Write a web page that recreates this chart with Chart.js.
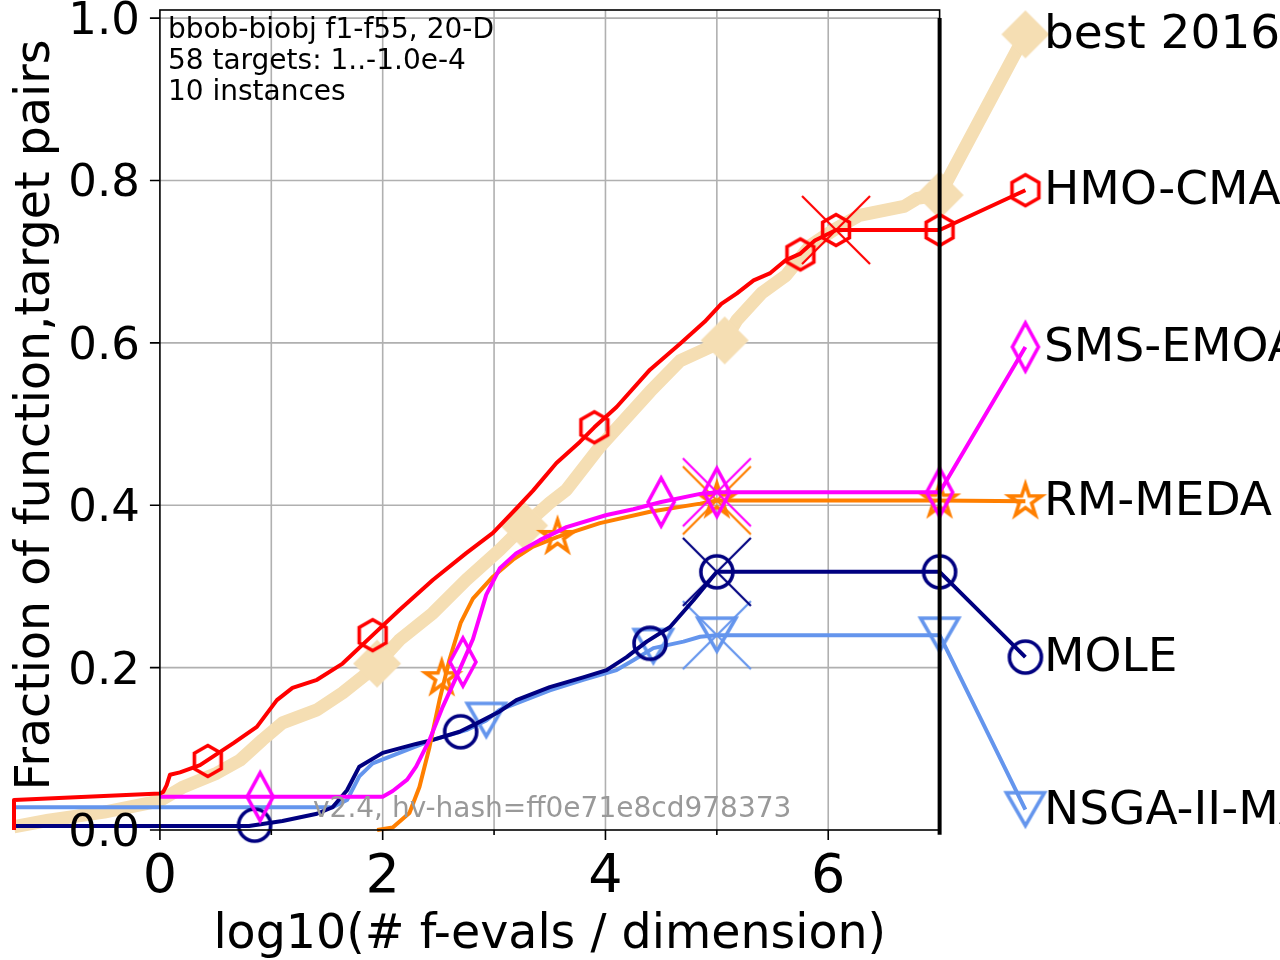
<!DOCTYPE html>
<html>
<head>
<meta charset="utf-8">
<script src="https://cdn.jsdelivr.net/npm/chart.js"></script>
<style>
  html, body { margin: 0; padding: 0; background: #ffffff; }
  canvas { display: block; }
</style>
</head>
<body>
<canvas id="ecdf" width="1280" height="960"></canvas>
<script>
// DATA (log10 of f-evals / dimension, fraction of function,target pairs)
// ---------------------------------------------------
const algNames = [ 'best 2016', 'HMO-CMA-ES', 'SMS-EMOA', 'RM-MEDA', 'MOLE', 'NSGA-II-MATLAB' ];
const algColors = [ '#F5DEB3', '#FF0000', '#FF00FF', '#FF7F00', '#000080', '#6495ED' ];

const bestCurve = [ [-1.31,0.004],[-1.0,0.012],[-0.5,0.022],[0,0.036],[0.21,0.053],[0.51,0.07],[0.72,0.086],[0.92,0.111],[1.1,0.132],[1.41,0.148],[1.64,0.169],[1.86,0.193],[1.95,0.204],[2.15,0.234],[2.45,0.267],[2.75,0.308],[3.05,0.345],[3.27,0.375],[3.5,0.403],[3.65,0.419],[3.95,0.472],[4.4,0.54],[4.67,0.578],[5.07,0.603],[5.18,0.628],[5.4,0.661],[5.62,0.683],[5.84,0.72],[6.06,0.74],[6.28,0.757],[6.68,0.768],[6.8,0.778],[7.0,0.782],[7.77,0.98] ];
const bestMarks = [ [1.95,0.205],[3.27,0.375],[5.07,0.603],[7.0,0.782],[7.77,0.98] ];

const hmoCurve = [ [-1.31,0],[-1.31,0.037],[0,0.045],[0.03,0.047],[0.06,0.055],[0.09,0.068],[0.18,0.071],[0.36,0.08],[0.66,0.107],[0.87,0.127],[1.05,0.16],[1.19,0.175],[1.41,0.185],[1.64,0.205],[1.91,0.24],[2.15,0.271],[2.45,0.308],[2.75,0.341],[2.99,0.366],[3.2,0.396],[3.35,0.418],[3.56,0.452],[3.77,0.478],[3.9,0.496],[4.1,0.521],[4.4,0.567],[4.67,0.599],[4.89,0.626],[5.04,0.648],[5.18,0.661],[5.33,0.677],[5.48,0.686],[5.62,0.702],[5.75,0.71],[5.88,0.726],[6.07,0.739],[7.0,0.739],[7.77,0.788] ];
const hmoMarks = [ [0.43,0.085],[1.91,0.24],[3.9,0.496],[5.75,0.709],[6.07,0.739],[7.0,0.739],[7.77,0.788] ];
const hmoCross = [ 6.07, 0.739 ];

const smsCurve = [ [0,0.041],[2.0,0.041],[2.09,0.048],[2.22,0.062],[2.3,0.078],[2.42,0.111],[2.54,0.152],[2.66,0.188],[2.81,0.235],[2.93,0.29],[3.05,0.322],[3.2,0.341],[3.41,0.357],[3.65,0.373],[4.01,0.388],[4.25,0.395],[4.5,0.404],[4.85,0.414],[5.0,0.416],[7.0,0.416],[7.77,0.595] ];
const smsMarks = [ [0.9,0.041],[2.72,0.207],[4.5,0.404],[5.0,0.416],[7.0,0.416],[7.77,0.595] ];
const smsCross = [ 5.0, 0.416 ];

const rmCurve = [ [1.95,0],[2.09,0.003],[2.24,0.021],[2.33,0.053],[2.42,0.102],[2.51,0.16],[2.6,0.21],[2.7,0.255],[2.81,0.285],[2.99,0.312],[3.17,0.333],[3.35,0.349],[3.57,0.361],[3.95,0.378],[4.4,0.392],[4.85,0.402],[5.0,0.406],[7.0,0.406],[7.77,0.405] ];
const rmMarks = [ [2.53,0.187],[3.57,0.361],[5.0,0.406],[7.0,0.406],[7.77,0.405] ];
const rmCross = [ 5.0, 0.406 ];

const moleCurve = [ [-1.31,0.005],[0.8,0.005],[1.1,0.011],[1.41,0.02],[1.55,0.028],[1.68,0.049],[1.79,0.078],[2.0,0.095],[2.3,0.106],[2.45,0.111],[2.69,0.121],[2.84,0.131],[3.05,0.146],[3.2,0.16],[3.5,0.176],[3.8,0.188],[4.01,0.197],[4.19,0.213],[4.37,0.232],[4.58,0.25],[4.79,0.283],[5.0,0.318],[7.0,0.318],[7.77,0.213] ];
const moleMarks = [ [0.85,0.006],[2.7,0.121],[4.4,0.23],[5.0,0.318],[7.0,0.318],[7.77,0.213] ];
const moleCross = [ 5.0, 0.318 ];

const nsgaCurve = [ [-1.31,0.028],[1.55,0.028],[1.68,0.037],[1.79,0.066],[1.91,0.082],[2.15,0.095],[2.45,0.111],[2.75,0.123],[2.93,0.135],[3.05,0.148],[3.2,0.156],[3.5,0.172],[3.8,0.185],[4.1,0.197],[4.25,0.209],[4.43,0.224],[4.7,0.232],[4.85,0.238],[5.0,0.24],[7.0,0.24],[7.77,0.025] ];
const nsgaMarks = [ [2.93,0.135],[4.43,0.226],[5.0,0.24],[7.0,0.24],[7.77,0.025] ];
const nsgaCross = [ 5.0, 0.24 ];

const xTicks = [ 0, 2, 4, 6 ];
const xGrid = [ 1, 2, 3, 4, 5, 6 ];
const yTicks = [ 0, 0.2, 0.4, 0.6, 0.8, 1.0 ];
const infoLines = [ 'bbob-biobj f1-f55, 20-D', '58 targets: 1..-1.0e-4', '10 instances' ];
const versionText = 'v2.4, hv-hash=ff0e71e8cd978373';
const xTitle = 'log10(# f-evals / dimension)';
const yTitle = 'Fraction of function,target pairs';

// MARKER IMAGES
// ---------------------------------------------------
function markerCanvas( shape, color ) {
    const s = 80;
    const c = document.createElement( 'canvas' );
    c.width = s; c.height = s;
    const g = c.getContext( '2d' );
    g.translate( s / 2, s / 2 );
    g.strokeStyle = color;
    g.fillStyle = color;
    g.lineWidth = 3.6;
    g.lineJoin = 'miter';
    g.beginPath();
    if ( shape === 'hexagon' ) {
        for ( let k = 0; k < 6; k++ ) {
            const a = -Math.PI / 2 + k * Math.PI / 3;
            g.lineTo( 15.5 * Math.cos( a ), 15.5 * Math.sin( a ) );
        }
    } else if ( shape === 'thindiamond' ) {
        g.moveTo( 0, -24 ); g.lineTo( 13, 0 ); g.lineTo( 0, 24 ); g.lineTo( -13, 0 );
    } else if ( shape === 'star' ) {
        for ( let k = 0; k < 10; k++ ) {
            const a = -Math.PI / 2 + k * Math.PI / 5;
            const r = k % 2 === 0 ? 17 : 17 * 0.381966;
            g.lineTo( r * Math.cos( a ), r * Math.sin( a ) );
        }
    } else if ( shape === 'circle' ) {
        g.arc( 0, 0, 16, 0, Math.PI * 2 );
    } else if ( shape === 'tridown' ) {
        g.moveTo( -19, -17 ); g.lineTo( 19, -17 ); g.lineTo( 0, 16 );
    } else if ( shape === 'diamond' ) {
        g.moveTo( 0, -24 ); g.lineTo( 24, 0 ); g.lineTo( 0, 24 ); g.lineTo( -24, 0 );
    } else if ( shape === 'cross' ) {
        g.lineWidth = 2.2;
        g.moveTo( -34, -34 ); g.lineTo( 34, 34 );
        g.moveTo( 34, -34 ); g.lineTo( -34, 34 );
        g.stroke();
        return c;
    }
    g.closePath();
    if ( shape === 'diamond' ) g.fill(); else g.stroke();
    return c;
}

const toPts = arr => arr.map( p => ({ x: p[0], y: p[1] }) );

// DATASETS (first one in the list is drawn on top)
// ---------------------------------------------------
const series = [
    { curve: hmoCurve,  marks: hmoMarks,  cross: hmoCross,  shape: 'hexagon',     color: algColors[1], width: 4 },
    { curve: smsCurve,  marks: smsMarks,  cross: smsCross,  shape: 'thindiamond', color: algColors[2], width: 4 },
    { curve: rmCurve,   marks: rmMarks,   cross: rmCross,   shape: 'star',        color: algColors[3], width: 4 },
    { curve: moleCurve, marks: moleMarks, cross: moleCross, shape: 'circle',      color: algColors[4], width: 4 },
    { curve: nsgaCurve, marks: nsgaMarks, cross: nsgaCross, shape: 'tridown',     color: algColors[5], width: 4 },
    { curve: bestCurve, marks: bestMarks, cross: null,      shape: 'diamond',     color: algColors[0], width: 13 }
];

const datasets = [];
series.forEach( function ( s ) {
    if ( s.cross ) {
        datasets.push({
            data: toPts( [ s.cross ] ), showLine: false, clip: false,
            pointStyle: markerCanvas( 'cross', s.color ), pointRadius: 5, pointHoverRadius: 5
        });
    }
    datasets.push({
        data: toPts( s.marks ), showLine: false, clip: false,
        pointStyle: markerCanvas( s.shape, s.color ), pointRadius: 5, pointHoverRadius: 5
    });
    datasets.push({
        data: toPts( s.curve ), showLine: true, clip: false,
        borderColor: s.color, borderWidth: s.width, pointRadius: 0, pointHoverRadius: 0,
        tension: 0, borderJoinStyle: 'round', borderCapStyle: 'butt', fill: false
    });
});
datasets.forEach( ( d, i ) => { d.order = i; } );

// FRAME, GRID AND TEXT PLUGIN
// ---------------------------------------------------
const FONT = '"DejaVu Sans", sans-serif';
const framePlugin = {
    id: 'cocoFrame',
    beforeDatasetsDraw( chart ) {
        const ctx = chart.ctx, xs = chart.scales.x, ys = chart.scales.y;
        const x0 = xs.getPixelForValue( 0 ), x7 = xs.getPixelForValue( 7 );
        const yb = ys.getPixelForValue( 0 ), yt = ys.getPixelForValue( 1.01 );
        ctx.save();
        ctx.strokeStyle = '#b0b0b0';
        ctx.lineWidth = 1.6;
        ctx.beginPath();
        xGrid.forEach( v => { const p = xs.getPixelForValue( v ); ctx.moveTo( p, yb ); ctx.lineTo( p, yt ); } );
        yTicks.forEach( v => { if ( v === 0 ) return; const p = ys.getPixelForValue( v ); ctx.moveTo( x0, p ); ctx.lineTo( x7, p ); } );
        ctx.stroke();
        ctx.restore();
    },
    afterDatasetsDraw( chart ) {
        const ctx = chart.ctx, xs = chart.scales.x, ys = chart.scales.y;
        const x0 = xs.getPixelForValue( 0 ), x7 = xs.getPixelForValue( 7 );
        const yb = ys.getPixelForValue( 0 ), yt = ys.getPixelForValue( 1.01 );
        ctx.save();
        // spines
        ctx.strokeStyle = '#000';
        ctx.lineWidth = 1.6;
        ctx.strokeRect( x0, yt, x7 - x0, yb - yt );
        // ticks
        ctx.beginPath();
        yTicks.forEach( v => { const p = ys.getPixelForValue( v ); ctx.moveTo( x0 - 10, p ); ctx.lineTo( x0, p ); } );
        xTicks.forEach( v => { const p = xs.getPixelForValue( v ); ctx.moveTo( p, yb ); ctx.lineTo( p, yb + 10 ); } );
        xGrid.forEach( v => { if ( v % 2 === 0 ) return; const p = xs.getPixelForValue( v ); ctx.moveTo( p, yb ); ctx.lineTo( p, yb + 5 ); } );
        ctx.stroke();
        // max budget line
        ctx.lineWidth = 4;
        ctx.beginPath();
        ctx.moveTo( x7, ys.getPixelForValue( -0.006 ) );
        ctx.lineTo( x7, ys.getPixelForValue( 1.0 ) );
        ctx.stroke();
        // tick labels
        ctx.fillStyle = '#000';
        ctx.font = '45px ' + FONT;
        ctx.textAlign = 'right';
        ctx.textBaseline = 'alphabetic';
        yTicks.forEach( v => ctx.fillText( v.toFixed( 1 ), x0 - 20, ys.getPixelForValue( v ) + 16 ) );
        ctx.font = '54px ' + FONT;
        ctx.textAlign = 'center';
        xTicks.forEach( v => ctx.fillText( String( v ), xs.getPixelForValue( v ), yb + 62 ) );
        // axis titles
        ctx.font = '47.5px ' + FONT;
        ctx.fillText( xTitle, ( x0 + x7 ) / 2, 948 );
        ctx.save();
        ctx.translate( 49, ( yb + yt ) / 2 - 5 );
        ctx.rotate( -Math.PI / 2 );
        ctx.fillText( yTitle, 0, 0 );
        ctx.restore();
        // info text
        ctx.textAlign = 'left';
        ctx.font = '28px ' + FONT;
        infoLines.forEach( ( t, i ) => ctx.fillText( t, x0 + 8, 38 + i * 31 ) );
        ctx.fillStyle = '#999999';
        ctx.fillText( versionText, 313, 817 );
        // algorithm labels
        ctx.fillStyle = '#000';
        ctx.font = '47px ' + FONT;
        const ends = [ bestCurve, hmoCurve, smsCurve, rmCurve, moleCurve, nsgaCurve ];
        algNames.forEach( ( name, i ) => {
            const last = ends[ i ][ ends[ i ].length - 1 ];
            ctx.fillText( name, 1044, ys.getPixelForValue( last[1] ) + 14 );
        });
        ctx.restore();
    }
};

// CHART
// ---------------------------------------------------
const ecdfChart = new Chart( document.querySelector( '#ecdf' ), {
    type: 'scatter',
    data: { datasets: datasets },
    options: {
        responsive: false,
        devicePixelRatio: 1,
        animation: false,
        events: [],
        layout: { padding: { left: 14, right: 229, top: 10, bottom: 130 } },
        plugins: { legend: { display: false }, tooltip: { enabled: false } },
        scales: {
            x: { type: 'linear', min: -1.31, max: 8.0, display: false },
            y: { type: 'linear', min: 0, max: 1.01, display: false }
        }
    },
    plugins: [ framePlugin ]
});
</script>
</body>
</html>
